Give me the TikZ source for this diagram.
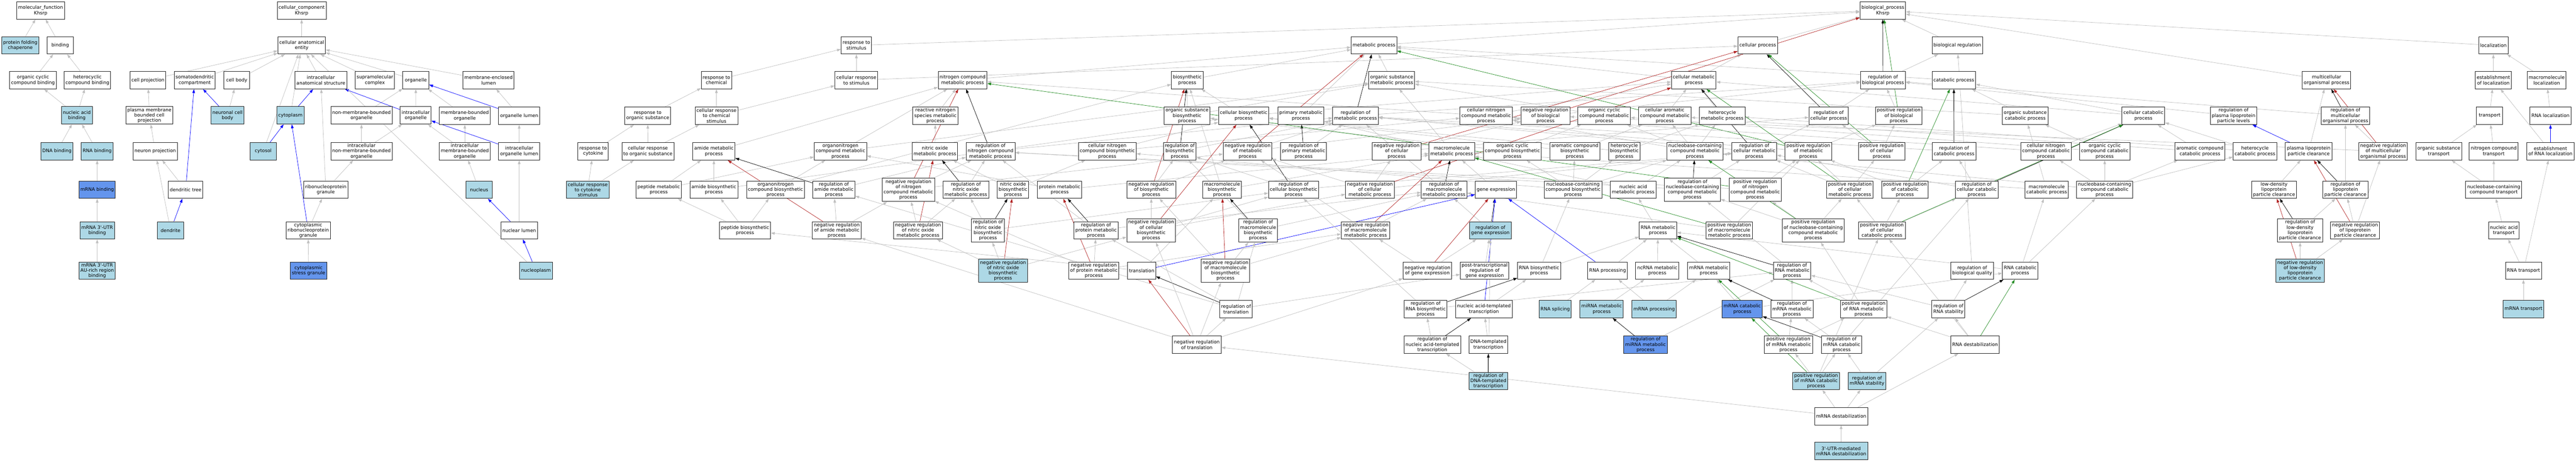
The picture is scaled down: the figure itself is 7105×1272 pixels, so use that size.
\documentclass[tikz,border=0pt]{standalone}
\usepackage{fontspec}
\newfontfamily\gfont{DejaVu Sans}
\usetikzlibrary{arrows.meta,backgrounds}
\definecolor{lbC}{HTML}{ADD8E6}
\definecolor{cbC}{HTML}{6495ED}
\definecolor{grC}{HTML}{C0C0C0}
\definecolor{rdC}{HTML}{B22222}
\definecolor{gnC}{HTML}{228B22}
\definecolor{bdC}{HTML}{202020}
\tikzset{
  nb/.style={draw=bdC, line width=1pt, fill=white, rectangle, minimum width=54pt,
    minimum height=36pt, inner xsep=3pt, inner ysep=1pt, align=center,
    font=\gfont\fontsize{9.7}{10.95}\selectfont},
  lb/.style={nb, fill=lbC},
  cb/.style={nb, fill=cbC},
  tall/.style={minimum height=48.75pt},
  grayedge/.style={draw=grC, line width=0.75pt, -{Triangle[length=8pt,width=5.5pt]}},
  blueedge/.style={grayedge, draw=blue},
  blackedge/.style={grayedge, draw=black},
  rededge/.style={grayedge, draw=rdC},
  greenedge/.style={grayedge, draw=gnC}
}
\newcommand\E[3][grayedge]{\draw[#1] (#2) -- (#3);}
\begin{document}
\begin{tikzpicture}[x=0.75pt,y=-0.75pt]
\useasboundingbox (0,0) rectangle (7105,1272);
% ---------------- molecular function
\node[nb] (mf) at (112,29) {molecular\_function\\Khsrp};
\node[lb] (pfc) at (56,125) {protein folding\\chaperone};
\node[nb] (bind) at (166,125) {binding};
\node[nb] (occb) at (91,221) {organic cyclic\\compound binding};
\node[nb] (hcb) at (241,221) {heterocyclic\\compound binding};
\node[lb] (nab) at (212,318) {nucleic acid\\binding};
\node[lb] (dnab) at (157,417) {DNA binding};
\node[lb] (rnab) at (268,417) {RNA binding};
\node[cb] (mrnab) at (268,523) {mRNA binding};
\node[lb] (utrb) at (268,635) {mRNA 3'-UTR\\binding};
\node[lb] (aub) at (268,746) {mRNA 3'-UTR\\AU-rich region\\binding};
% ---------------- cellular component
\node[nb] (cc) at (832,29) {cellular\_component\\Khsrp};
\node[nb] (cae) at (832,125) {cellular anatomical\\entity};
\node[nb] (cproj) at (408,221) {cell projection};
\node[nb] (sdc) at (537,221) {somatodendritic\\compartment};
\node[nb] (cbody) at (653,221) {cell body};
\node[nb] (ias) at (885,221) {intracellular\\anatomical structure};
\node[nb] (smc) at (1034,221) {supramolecular\\complex};
\node[nb] (org) at (1147,221) {organelle};
\node[nb] (mel) at (1347.5,221) {membrane-enclosed\\lumen};
\node[nb] (pmbcp) at (412,318) {plasma membrane\\bounded cell\\projection};
\node[lb] (ncb) at (627.5,318) {neuronal cell\\body};
\node[lb] (cyto) at (801,318) {cytoplasm};
\node[nb] (nmbo) at (997,318) {non-membrane-bounded\\organelle};
\node[nb] (iorg) at (1146.5,318) {intracellular\\organelle};
\node[nb] (mbo) at (1282,319) {membrane-bounded\\organelle};
\node[nb] (ol) at (1432,319) {organelle lumen};
\node[nb] (nproj) at (428,417) {neuron projection};
\node[lb] (cytosol) at (726,417) {cytosol};
\node[nb] (inmbo) at (997,417) {intracellular\\non-membrane-bounded\\organelle};
\node[nb] (imbo) at (1282,417) {intracellular\\membrane-bounded\\organelle};
\node[nb] (iol) at (1432,417) {intracellular\\organelle lumen};
\node[nb] (dtree) at (512,523) {dendritic tree};
\node[nb] (rnpg) at (898.6,523) {ribonucleoprotein\\granule};
\node[lb] (nucleus) at (1321.5,523) {nucleus};
\node[lb] (dend) at (470.5,635) {dendrite};
\node[nb] (crnpg) at (850,635) {cytoplasmic\\ribonucleoprotein\\granule};
\node[nb] (nlumen) at (1432,635) {nuclear lumen};
\node[cb] (csg) at (851,746) {cytoplasmic\\stress granule};
\node[lb] (nplasm) at (1478.5,746) {nucleoplasm};
% ---------------- biological process rows A-C
\node[nb] (bp) at (5193,29) {biological\_process\\Khsrp};
\node[nb] (rs) at (2362,125) {response to\\stimulus};
\node[nb] (mp) at (3789.5,125) {metabolic process};
\node[nb] (cp) at (4848,125) {cellular process};
\node[nb] (br) at (5398.5,125) {biological regulation};
\node[nb] (loc) at (6877,125) {localization};
\node[nb] (crs) at (2362,221) {cellular response\\to stimulus};
\node[nb] (rchem) at (1976,221) {response to\\chemical};
\node[nb] (ncmp) at (2655,221) {nitrogen compound\\metabolic process};
\node[nb] (bsp) at (3274.6,221) {biosynthetic\\process};
\node[nb] (osmp) at (3838.5,221) {organic substance\\metabolic process};
\node[nb] (cmp) at (4671.5,221) {cellular metabolic\\process};
\node[nb] (rbp) at (5193.6,221) {regulation of\\biological process};
\node[nb] (catp) at (5389,221) {catabolic process};
\node[nb] (mop) at (6417,221) {multicellular\\organismal process};
\node[nb] (eol) at (6877,221) {establishment\\of localization};
\node[nb] (mloc) at (7024,221) {macromolecule\\localization};
% row D
\node[nb] (ros) at (1786.5,319) {response to\\organic substance};
\node[nb] (crcs) at (1976,319) {cellular response\\to chemical\\stimulus};
\node[nb] (rnsmp) at (2580,319) {reactive nitrogen\\species metabolic\\process};
\node[nb] (osbp) at (3274,319) {organic substance\\biosynthetic\\process};
\node[nb] (cbsp) at (3430,319) {cellular biosynthetic\\process};
\node[nb] (pmp) at (3588,319) {primary metabolic\\process};
\node[nb] (rmp) at (3738.7,319) {regulation of\\metabolic process};
\node[nb] (cncmp) at (4099,319) {cellular nitrogen\\compound metabolic\\process};
\node[nb] (nrbp) at (4262.6,319) {negative regulation\\of biological\\process};
\node[nb] (occmp) at (4424.6,319) {organic cyclic\\compound metabolic\\process};
\node[nb] (camp) at (4591.6,319) {cellular aromatic\\compound metabolic\\process};
\node[nb] (hmp) at (4750,319) {heterocycle\\metabolic process};
\node[nb] (rcp) at (5043.8,319) {regulation of\\cellular process};
\node[nb] (prbp) at (5237,319) {positive regulation\\of biological\\process};
\node[nb] (oscp) at (5586,319) {organic substance\\catabolic process};
\node[nb] (ccp) at (5911.8,319) {cellular catabolic\\process};
\node[nb] (rpplpl) at (6160.5,319) {regulation of\\plasma lipoprotein\\particle levels};
\node[nb] (rmop) at (6469,319) {regulation of\\multicellular\\organismal process};
\node[nb] (transp) at (6866.6,319) {transport};
\node[nb] (rnaloc) at (7034.5,319) {RNA localization};
% row E
\node[nb] (rtc) at (1636,417) {response to\\cytokine};
\node[nb] (cros) at (1787,417) {cellular response\\to organic substance};
\node[nb] (amp) at (1969,417) {amide metabolic\\process};
\node[nb] (oncmp) at (2318,417) {organonitrogen\\compound metabolic\\process};
\node[nb] (nomp) at (2578.5,417) {nitric oxide\\metabolic process};
\node[nb] (rncmp) at (2732,417) {regulation of\\nitrogen compound\\metabolic process};
\node[nb] (cncbp) at (3054,417) {cellular nitrogen\\compound biosynthetic\\process};
\node[nb] (rbsp) at (3254,417) {regulation of\\biosynthetic\\process};
\node[nb] (nrmp) at (3441,417) {negative regulation\\of metabolic\\process};
\node[nb] (rpmp) at (3595.6,417) {regulation of\\primary metabolic\\process};
\node[nb] (nrcp) at (3852,417) {negative regulation\\of cellular\\process};
\node[nb] (mmp) at (4004,417) {macromolecule\\metabolic process};
\node[nb] (occbp) at (4171.5,417) {organic cyclic\\compound biosynthetic\\process};
\node[nb] (acbp) at (4343.6,417) {aromatic compound\\biosynthetic\\process};
\node[nb] (hbp) at (4480,417) {heterocycle\\biosynthetic\\process};
\node[nb] (nbcmp) at (4675,417) {nucleobase-containing\\compound metabolic\\process};
\node[nb] (rcmp) at (4838.7,417) {regulation of\\cellular metabolic\\process};
\node[nb] (prmp) at (4987.6,417) {positive regulation\\of metabolic\\process};
\node[nb] (prcp) at (5190,417) {positive regulation\\of cellular\\process};
\node[nb] (rcatp) at (5389.5,417) {regulation of\\catabolic process};
\node[nb] (cnccp) at (5643,417) {cellular nitrogen\\compound catabolic\\process};
\node[nb] (occcp) at (5805,417) {organic cyclic\\compound catabolic\\process};
\node[nb] (accp) at (6067.6,417) {aromatic compound\\catabolic process};
\node[nb] (hcp) at (6219.5,417) {heterocycle\\catabolic process};
\node[nb] (plpc) at (6367.6,417) {plasma lipoprotein\\particle clearance};
\node[nb] (nrmop) at (6573,417) {negative regulation\\of multicellular\\organismal process};
\node[nb] (ost) at (6726.6,417) {organic substance\\transport};
\node[nb] (nct) at (6878,417) {nitrogen compound\\transport};
\node[nb] (erl) at (7034.5,417) {establishment\\of RNA localization};
% row F
\node[lb] (ccrcs) at (1621,523) {cellular response\\to cytokine\\stimulus};
\node[nb] (pepmp) at (1817,523) {peptide metabolic\\process};
\node[nb] (abp) at (1969,523) {amide biosynthetic\\process};
\node[nb] (oncbp) at (2139,523) {organonitrogen\\compound biosynthetic\\process};
\node[nb] (rams) at (2300,523) {regulation of\\amide metabolic\\process};
\node[nb,tall] (nrncmp) at (2505.5,523) {negative regulation\\of nitrogen\\compound metabolic\\process};
\node[nb] (rnomp) at (2664,523) {regulation of\\nitric oxide\\metabolic process};
\node[nb] (nobp) at (2794,523) {nitric oxide\\biosynthetic\\process};
\node[nb] (prmetp) at (2922.6,523) {protein metabolic\\process};
\node[nb] (nrbsp) at (3175.5,523) {negative regulation\\of biosynthetic\\process};
\node[nb] (mbp) at (3370.6,523) {macromolecule\\biosynthetic\\process};
\node[nb] (rcbsp) at (3568,523) {regulation of\\cellular biosynthetic\\process};
\node[nb] (nrcmp) at (3778.4,523) {negative regulation\\of cellular\\metabolic process};
\node[nb] (rmmp) at (3982.8,523) {regulation of\\macromolecule\\metabolic process};
\node[nb] (ge) at (4126,523) {gene expression};
\node[nb] (nbcbp) at (4338.6,523) {nucleobase-containing\\compound biosynthetic\\process};
\node[nb] (nametp) at (4504.5,523) {nucleic acid\\metabolic process};
\node[nb,tall] (rnbcmp) at (4668,523) {regulation of\\nucleobase-containing\\compound metabolic\\process};
\node[nb,tall] (pncmp) at (4841,523) {positive regulation\\of nitrogen\\compound metabolic\\process};
\node[nb] (prcmp) at (5102,523) {positive regulation\\of cellular\\metabolic process};
\node[nb] (prcatp) at (5254,523) {positive regulation\\of catabolic\\process};
\node[nb] (rccatp) at (5452,523) {regulation of\\cellular catabolic\\process};
\node[nb] (mcp) at (5645,523) {macromolecule\\catabolic process};
\node[nb] (nbccp) at (5805,523) {nucleobase-containing\\compound catabolic\\process};
\node[nb] (ldlpc) at (6272,523) {low-density\\lipoprotein\\particle clearance};
\node[nb] (rlpc) at (6469,523) {regulation of\\lipoprotein\\particle clearance};
\node[nb] (ncct) at (6878,523) {nucleobase-containing\\compound transport};
% row G
\node[nb] (pbp) at (2055,635) {peptide biosynthetic\\process};
\node[nb] (nrams) at (2308,635) {negative regulation\\of amide metabolic\\process};
\node[nb] (nrnomp) at (2532,635) {negative regulation\\of nitric oxide\\metabolic process};
\node[nb,tall] (rnobp) at (2725,635) {regulation of\\nitric oxide\\biosynthetic\\process};
\node[nb] (rprmp) at (3023,635) {regulation of\\protein metabolic\\process};
\node[nb,tall] (nrcbsp) at (3175,635) {negative regulation\\of cellular\\biosynthetic\\process};
\node[nb,tall] (rmbp) at (3470,635) {regulation of\\macromolecule\\biosynthetic\\process};
\node[nb] (nrmmp) at (3766.5,635) {negative regulation\\of macromolecule\\metabolic process};
\node[lb] (rge) at (4110.7,635) {regulation of\\gene expression};
\node[nb] (rnamp) at (4573,635) {RNA metabolic\\process};
\node[nb] (pmmp) at (4769.5,635) {positive regulation\\of macromolecule\\metabolic process};
\node[nb,tall] (pnbcmp) at (5001,635) {positive regulation\\of nucleobase-containing\\compound metabolic\\process};
\node[nb] (prccp) at (5190.6,635) {positive regulation\\of cellular\\catabolic process};
\node[nb,tall] (rldlpc) at (6344,635) {regulation of\\low-density\\lipoprotein\\particle clearance};
\node[nb] (nrlpc) at (6495.6,635) {negative regulation\\of lipoprotein\\particle clearance};
\node[nb] (natr) at (6906,635) {nucleic acid\\transport};
% row H
\node[lb,tall] (nrnobp) at (2766.5,746) {negative regulation\\of nitric oxide\\biosynthetic\\process};
\node[nb] (nrprmp) at (3017,746) {negative regulation\\of protein metabolic\\process};
\node[nb] (transl) at (3149,746) {translation};
\node[nb,tall] (nrmbp) at (3380,746) {negative regulation\\of macromolecule\\biosynthetic\\process};
\node[nb] (nrge) at (3937,746) {negative regulation\\of gene expression};
\node[nb] (ptrge) at (4094.8,746) {post-transcriptional\\regulation of\\gene expression};
\node[nb] (rnabp) at (4245,746) {RNA biosynthetic\\process};
\node[nb] (rnaproc) at (4434,746) {RNA processing};
\node[nb] (ncrna) at (4571,746) {ncRNA metabolic\\process};
\node[nb] (mrnamp) at (4713,746) {mRNA metabolic\\process};
\node[nb] (rrnamp) at (4942.8,746) {regulation of\\RNA metabolic\\process};
\node[nb] (rbq) at (5439.5,746) {regulation of\\biological quality};
\node[nb] (rnacp) at (5572,746) {RNA catabolic\\process};
\node[lb,tall] (nrldlpc) at (6344,746) {negative regulation\\of low-density\\lipoprotein\\particle clearance};
\node[nb] (rnatr) at (6960,746) {RNA transport};
% row I
\node[nb] (rtr) at (3409,852) {regulation of\\translation};
\node[nb] (rrnabp) at (3932,852) {regulation of\\RNA biosynthetic\\process};
\node[nb] (natt) at (4093,852) {nucleic acid-templated\\transcription};
\node[lb] (rnaspl) at (4289.5,852) {RNA splicing};
\node[lb] (mirna) at (4417.5,852) {miRNA metabolic\\process};
\node[lb] (mrnaproc) at (4562.5,852) {mRNA processing};
\node[cb] (mrnacp) at (4805.5,852) {mRNA catabolic\\process};
\node[nb] (rmrnamp) at (4942.4,852) {regulation of\\mRNA metabolic\\process};
\node[nb] (prrnamp) at (5140,852) {positive regulation\\of RNA metabolic\\process};
\node[nb] (rrnas) at (5374,852) {regulation of\\RNA stability};
\node[lb] (mrnatr) at (6960,852) {mRNA transport};
% row J
\node[nb] (nrtr) at (3301,950) {negative regulation\\of translation};
\node[nb] (rnatt) at (3950.5,950) {regulation of\\nucleic acid-templated\\transcription};
\node[nb] (dnatt) at (4105,950) {DNA-templated\\transcription};
\node[cb] (rmirna) at (4538.7,950) {regulation of\\miRNA metabolic\\process};
\node[nb] (pmrnamp) at (4932.8,950) {positive regulation\\of mRNA metabolic\\process};
\node[nb] (rmrnacp) at (5079.4,950) {regulation of\\mRNA catabolic\\process};
\node[nb] (rnadest) at (5447.5,950) {RNA destabilization};
% row K-M
\node[lb] (rdnatt) at (4105,1050) {regulation of\\DNA-templated\\transcription};
\node[lb] (pmrnacp) at (5009,1050) {positive regulation\\of mRNA catabolic\\process};
\node[lb] (rmrnas) at (5149.4,1050) {regulation of\\mRNA stability};
\node[nb] (mrnadest) at (5078,1147) {mRNA destabilization};
\node[lb] (utrdest) at (5078,1243) {3'-UTR-mediated\\mRNA destabilization};

\begin{scope}[on background layer]
\fill[white] (0,0) rectangle (7105,1272);
% MF
\E{pfc}{mf}\E{bind}{mf}\E{occb}{bind}\E{hcb}{bind}\E{nab}{occb}\E{nab}{hcb}
\E{dnab}{nab}\E{rnab}{nab}\E{mrnab}{rnab}\E{utrb}{mrnab}\E{aub}{utrb}
% CC
\E{cae}{cc}\E{cproj}{cae}\E{sdc}{cae}\E{cbody}{cae}\E{ias}{cae}\E{smc}{cae}\E{org}{cae}
\E{mel}{cae}\E{cyto}{cae}\E[blueedge]{cyto}{ias}\E{cytosol}{cae}\E[blueedge]{cytosol}{cyto}
\E{pmbcp}{cproj}\E{ncb}{cbody}\E[blueedge]{ncb}{sdc}\E{nproj}{pmbcp}\E{dtree}{nproj}
\E[blueedge]{dtree}{sdc}\E{dend}{nproj}\E[blueedge]{dend}{dtree}\E{nmbo}{org}\E{iorg}{org}
\E[blueedge]{iorg}{ias}\E{inmbo}{nmbo}\E{inmbo}{iorg}\E{rnpg}{inmbo}\E{rnpg}{ias}
\E{crnpg}{rnpg}\E[blueedge]{crnpg}{cyto}\E{csg}{crnpg}\E{mbo}{org}\E{ol}{mel}\E[blueedge]{ol}{org}
\E{imbo}{mbo}\E{imbo}{iorg}\E{iol}{ol}\E[blueedge]{iol}{iorg}\E{nucleus}{imbo}\E{nlumen}{iol}
\E[blueedge]{nlumen}{nucleus}\E[blueedge]{nplasm}{nlumen}\E{nplasm}{cae}
% BP top
\E{rs}{bp}\E{mp}{bp}\E{cp}{bp}\E{br}{bp}\E{loc}{bp}\E{mop}{bp}
\E{crs}{rs}\E{crs}{cp}\E{rchem}{rs}
\E{ncmp}{mp}\E{bsp}{mp}\E{osmp}{mp}\E{cmp}{mp}\E{cmp}{cp}\E{catp}{mp}
\E{rbp}{br}\E[blackedge]{rbp}{bp}\E{eol}{loc}\E{mloc}{loc}
% row D
\E{ros}{rchem}\E{crcs}{rchem}\E{crcs}{crs}\E{rnsmp}{ncmp}\E{osbp}{bsp}\E{osbp}{osmp}
\E{cbsp}{bsp}\E{cbsp}{cmp}\E{pmp}{mp}\E{rmp}{rbp}\E[blackedge]{rmp}{mp}
\E{cncmp}{ncmp}\E{cncmp}{cmp}\E{nrbp}{rbp}\E[rededge]{nrbp}{bp}\E{occmp}{osmp}
\E{camp}{cmp}\E{hmp}{cmp}\E{rcp}{rbp}\E[blackedge]{rcp}{cp}\E{prbp}{rbp}\E[greenedge]{prbp}{bp}
\E{oscp}{catp}\E{oscp}{osmp}\E{ccp}{catp}\E{ccp}{cmp}\E{rpplpl}{rbp}\E{rmop}{rbp}
\E[blackedge]{rmop}{mop}\E{transp}{eol}\E{rnaloc}{mloc}
% row E
\E{rtc}{ros}\E{cros}{ros}\E{cros}{crcs}\E{amp}{ncmp}\E{oncmp}{ncmp}\E{oncmp}{osmp}
\E{nomp}{rnsmp}\E{rncmp}{rmp}\E[blackedge]{rncmp}{ncmp}\E{cncbp}{cncmp}\E{cncbp}{cbsp}
\E{rbsp}{rmp}\E[blackedge]{rbsp}{bsp}\E{nrmp}{rmp}\E{nrmp}{nrbp}\E[rededge]{nrmp}{mp}
\E{rpmp}{rmp}\E[blackedge]{rpmp}{pmp}\E{nrcp}{rcp}\E{nrcp}{nrbp}\E[rededge]{nrcp}{cp}
\E{mmp}{osmp}\E{mmp}{pmp}\E{occbp}{occmp}\E{occbp}{osbp}\E{acbp}{camp}\E{acbp}{cbsp}
\E{hbp}{hmp}\E{hbp}{cbsp}\E{nbcmp}{cncmp}\E{nbcmp}{occmp}\E{nbcmp}{camp}\E{nbcmp}{hmp}
\E{rcmp}{rmp}\E{rcmp}{rcp}\E[blackedge]{rcmp}{cmp}\E{prmp}{rmp}\E{prmp}{prbp}\E[greenedge]{prmp}{mp}
\E{prcp}{rcp}\E{prcp}{prbp}\E[greenedge]{prcp}{cp}\E{rcatp}{rmp}\E[blackedge]{rcatp}{catp}
\E{cnccp}{cncmp}\E{cnccp}{ccp}\E{occcp}{occmp}\E{occcp}{oscp}\E{accp}{camp}\E{accp}{ccp}
\E{hcp}{hmp}\E{hcp}{ccp}\E{plpc}{mop}\E[blueedge]{plpc}{rpplpl}\E{nrmop}{rmop}\E{nrmop}{nrbp}
\E[rededge]{nrmop}{mop}\E{ost}{transp}\E{nct}{transp}\E{erl}{eol}\E[blueedge]{erl}{rnaloc}
% row F
\E{ccrcs}{rtc}\E{ccrcs}{cros}\E{pepmp}{amp}\E{pepmp}{oncmp}\E{abp}{amp}\E{abp}{cbsp}
\E{oncbp}{oncmp}\E{oncbp}{bsp}\E{rams}{rncmp}\E[blackedge]{rams}{amp}
\E{nrncmp}{rncmp}\E{nrncmp}{nrmp}\E[rededge]{nrncmp}{ncmp}\E{rnomp}{rncmp}\E[blackedge]{rnomp}{nomp}
\E{nobp}{nomp}\E{nobp}{cncbp}\E{prmetp}{mmp}\E{prmetp}{oncmp}
\E{nrbsp}{rbsp}\E{nrbsp}{nrmp}\E[rededge]{nrbsp}{bsp}\E{mbp}{mmp}\E{mbp}{bsp}
\E{rcbsp}{rbsp}\E{rcbsp}{rcmp}\E[blackedge]{rcbsp}{cbsp}
\E{nrcmp}{rcmp}\E{nrcmp}{nrmp}\E{nrcmp}{nrcp}\E[rededge]{nrcmp}{cmp}
\E{rmmp}{rmp}\E[blackedge]{rmmp}{mmp}\E{ge}{mmp}
\E{nbcbp}{nbcmp}\E{nbcbp}{occbp}\E{nbcbp}{acbp}\E{nbcbp}{hbp}\E{nbcbp}{cncbp}
\E{nametp}{nbcmp}\E{nametp}{mmp}\E{rnbcmp}{rcmp}\E{rnbcmp}{rncmp}\E[blackedge]{rnbcmp}{nbcmp}
\E{pncmp}{rncmp}\E{pncmp}{prmp}\E[greenedge]{pncmp}{ncmp}
\E{prcmp}{rcmp}\E{prcmp}{prmp}\E{prcmp}{prcp}\E[greenedge]{prcmp}{cmp}
\E{prcatp}{rcatp}\E{prcatp}{prmp}\E[greenedge]{prcatp}{catp}
\E{rccatp}{rcatp}\E{rccatp}{rcmp}\E[blackedge]{rccatp}{ccp}\E{mcp}{mmp}\E{mcp}{oscp}
\E{nbccp}{cnccp}\E{nbccp}{occcp}\E{nbccp}{accp}\E{nbccp}{hcp}\E{nbccp}{nbcmp}
\E{ldlpc}{plpc}\E{rlpc}{rmop}\E[blackedge]{rlpc}{plpc}\E{ncct}{ost}\E{ncct}{nct}
% row G
\E{pbp}{pepmp}\E{pbp}{abp}\E{pbp}{oncbp}\E{nrams}{rams}\E{nrams}{nrncmp}\E[rededge]{nrams}{amp}
\E{nrnomp}{nrncmp}\E{nrnomp}{rnomp}\E[rededge]{nrnomp}{nomp}
\E{rnobp}{rnomp}\E{rnobp}{rcbsp}\E[blackedge]{rnobp}{nobp}
\E{rprmp}{rmmp}\E{rprmp}{rncmp}\E[blackedge]{rprmp}{prmetp}
\E{nrcbsp}{nrbsp}\E{nrcbsp}{rcbsp}\E{nrcbsp}{nrcmp}\E[rededge]{nrcbsp}{cbsp}
\E{rmbp}{rbsp}\E{rmbp}{rmmp}\E[blackedge]{rmbp}{mbp}
\E{nrmmp}{rmmp}\E{nrmmp}{nrmp}\E[rededge]{nrmmp}{mmp}\E{rge}{rmmp}\E[blackedge]{rge}{ge}
\E{rnamp}{nametp}\E{pmmp}{rmmp}\E{pmmp}{prmp}\E[greenedge]{pmmp}{mmp}
\E{pnbcmp}{rnbcmp}\E{pnbcmp}{pncmp}\E{pnbcmp}{prcmp}\E[greenedge]{pnbcmp}{nbcmp}
\E{prccp}{rccatp}\E{prccp}{prcmp}\E{prccp}{prcatp}\E[greenedge]{prccp}{ccp}
\E{rldlpc}{rlpc}\E[blackedge]{rldlpc}{ldlpc}\E{nrlpc}{rlpc}\E{nrlpc}{nrmop}\E[rededge]{nrlpc}{plpc}
\E{natr}{ncct}
% row H
\E{nrnobp}{rnobp}\E{nrnobp}{nrnomp}\E{nrnobp}{nrcbsp}\E[rededge]{nrnobp}{nobp}
\E{nrprmp}{rprmp}\E{nrprmp}{nrncmp}\E{nrprmp}{nrmmp}\E[rededge]{nrprmp}{prmetp}
\E{transl}{pbp}\E{transl}{mbp}\E[blueedge]{transl}{ge}
\E{nrmbp}{rmbp}\E{nrmbp}{nrbsp}\E{nrmbp}{nrmmp}\E[rededge]{nrmbp}{mbp}
\E{nrge}{rge}\E{nrge}{nrmmp}\E[rededge]{nrge}{ge}\E{ptrge}{rge}
\E{rnabp}{rnamp}\E{rnabp}{nbcbp}\E{rnaproc}{rnamp}\E[blueedge]{rnaproc}{ge}
\E{ncrna}{rnamp}\E{mrnamp}{rnamp}\E{rrnamp}{rnbcmp}\E[blackedge]{rrnamp}{rnamp}
\E{rbq}{br}\E{rnacp}{rnamp}\E{rnacp}{mcp}\E{rnacp}{nbccp}
\E{nrldlpc}{rldlpc}\E{nrldlpc}{nrlpc}\E[rededge]{nrldlpc}{ldlpc}\E{rnatr}{natr}\E{rnatr}{erl}
% row I
\E{rrnabp}{rrnamp}\E{rrnabp}{rcbsp}\E[blackedge]{rrnabp}{rnabp}
\E{natt}{rnabp}\E[blueedge]{natt}{ge}
\E{rtr}{rams}\E{rtr}{rmbp}\E{rtr}{ptrge}\E{rtr}{rprmp}\E[blackedge]{rtr}{transl}
\E{rnaspl}{rnaproc}\E{mirna}{ncrna}\E{mrnaproc}{mrnamp}\E{mrnaproc}{rnaproc}
\E{mrnacp}{mrnamp}\E{mrnacp}{rnacp}\E{rmrnamp}{rrnamp}\E[blackedge]{rmrnamp}{mrnamp}
\E{prrnamp}{rrnamp}\E{prrnamp}{pnbcmp}\E[greenedge]{prrnamp}{rnamp}
\E{rrnas}{rbq}\E{rrnas}{rrnamp}\E[blackedge]{rrnas}{rnacp}\E{mrnatr}{rnatr}
% row J
\E{nrtr}{rtr}\E{nrtr}{nrmbp}\E{nrtr}{nrcbsp}\E{nrtr}{nrams}\E{nrtr}{nrge}\E[rededge]{nrtr}{transl}
\E{rnatt}{rrnabp}\E[blackedge]{rnatt}{natt}\E{dnatt}{natt}
\E{rmirna}{rrnamp}\E[blackedge]{rmirna}{mirna}
\E{pmrnamp}{rmrnamp}\E{pmrnamp}{prrnamp}\E[greenedge]{pmrnamp}{mrnamp}
\E{rmrnacp}{rmrnamp}\E{rmrnacp}{rccatp}\E[blackedge]{rmrnacp}{mrnacp}
\E{rnadest}{rrnas}\E{rnadest}{prccp}\E{rnadest}{prrnamp}\E[greenedge]{rnadest}{rnacp}
% rows K-M
\E{rdnatt}{rnatt}\E{rdnatt}{rge}\E[blackedge]{rdnatt}{dnatt}
\E{pmrnacp}{pmrnamp}\E{pmrnacp}{rmrnacp}\E{pmrnacp}{prccp}\E[greenedge]{pmrnacp}{mrnacp}
\E{rmrnas}{rmrnacp}\E{rmrnas}{rrnas}
\E{mrnadest}{pmrnacp}\E{mrnadest}{rmrnas}\E{mrnadest}{rnadest}\E{mrnadest}{nrtr}
\E{utrdest}{mrnadest}
\end{scope}
\end{tikzpicture}
\end{document}
